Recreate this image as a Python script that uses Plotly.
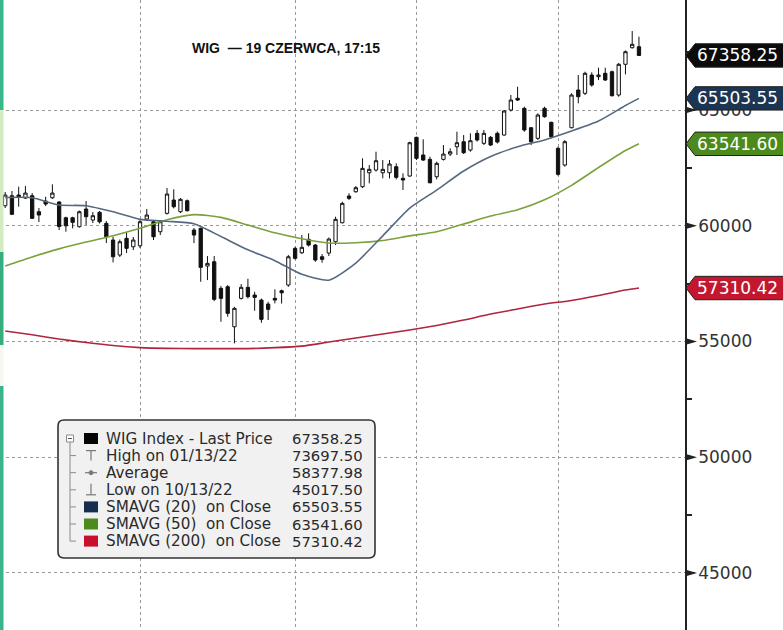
import plotly.graph_objects as go

# ---------------- data ----------------
open_ = [60866, 61298, 61328, 61198, 61298, 60607, 61069, 61211, 61026, 60347,
         60347, 59959, 60723, 60248, 60581, 60105, 59384, 58735, 59457, 59094,
         59137, 60291, 60175, 59743, 60537, 61112, 60607, 61082, 59816, 59889,
         58260, 58446, 57297, 57366, 55637, 56864, 57340, 57007, 56791, 56618,
         56864, 57193, 57439, 59025, 58835, 59414, 59168, 58662, 58822, 59311,
         60131, 61285, 61471, 61687, 62291, 62408, 62291, 62291, 62551, 62049,
         62149, 63821, 63056, 62870, 62119, 62870, 63099, 63415, 63631, 63272,
         63994, 63562, 63821, 63994, 63921, 65001, 65506, 65074, 64236, 63778,
         65074, 64469, 63346, 62624, 64236, 65865, 65722, 66513, 66440, 66587,
         66656, 65649, 66976, 67693, 67736]
high = [61458, 61501, 61687, 61717, 61414, 60766, 61256, 61790, 61069, 60391,
        60391, 60658, 61069, 60594, 60637, 60205, 59526, 59406, 59730, 59514,
        60248, 60723, 60226, 60248, 61631, 61574, 61198, 61134, 59902, 59924,
        58692, 58692, 57396, 57439, 56501, 57482, 57711, 57150, 56856, 56718,
        57253, 57245, 58735, 59094, 59600, 59673, 59211, 58779, 59492, 60391,
        61039, 61401, 61717, 62914, 62624, 63199, 62840, 62840, 62697, 62265,
        63631, 63847, 63735, 62983, 62767, 63489, 63346, 64063, 63921, 63994,
        64137, 64137, 63877, 64072, 65001, 65649, 66008, 65144, 64266, 64858,
        65144, 64495, 63415, 63705, 65722, 66513, 66656, 66630, 66829, 66829,
        66708, 67032, 67572, 68414, 68168]
low = [60766, 60464, 60823, 61155, 60291, 60162, 60853, 61155, 59816, 59743,
       59889, 59924, 60032, 60118, 60097, 59254, 58420, 58649, 58822, 58951,
       59038, 60205, 59384, 59600, 60485, 60753, 60550, 60615, 59254, 57582,
       57655, 56748, 55854, 56070, 54920, 56813, 56864, 56329, 55810, 55927,
       56648, 56640, 57366, 58541, 58779, 59103, 58446, 58403, 58692, 59168,
       60105, 61112, 61427, 61631, 61834, 62343, 62049, 62049, 62006, 61544,
       62119, 62840, 62797, 61834, 62006, 62819, 63013, 63056, 63099, 63199,
       63640, 63489, 63445, 63553, 63890, 64936, 65390, 64063, 63489, 63705,
       64668, 63778, 62162, 62551, 64210, 65290, 65649, 66008, 66297, 66254,
       65584, 65576, 66543, 67658, 67334]
close = [61328, 60494, 61242, 61414, 60321, 60464, 60939, 61414, 59967, 59999,
         60149, 60607, 60391, 60434, 60175, 59526, 58662, 59311, 59025, 59384,
         60175, 60464, 59526, 60175, 61371, 60823, 61142, 60650, 59600, 58203,
         58376, 56821, 56864, 56216, 56432, 57340, 56934, 56908, 55957, 56389,
         56791, 57106, 58662, 58593, 59068, 59168, 58519, 58549, 59427, 60278,
         60969, 61185, 61644, 62481, 62438, 62810, 62438, 62667, 62093, 61976,
         63588, 62914, 62840, 61859, 62698, 63099, 63199, 63588, 63156, 63674,
         63705, 63994, 63489, 63618, 64958, 65433, 65433, 64137, 63631, 64785,
         64712, 63847, 62222, 63631, 65649, 65576, 66587, 66081, 66513, 66297,
         65619, 66976, 67520, 67840, 67358.25]
session = list(range(len(close)))

sma_session = [0, 4, 8, 12, 16, 20, 24, 28, 32, 36, 40, 44, 48, 52, 56, 60,
               64, 68, 72, 76, 80, 84, 88, 92, 94]
sma20 = [61220, 61211, 60896, 60866, 60602, 60278, 60196, 60088, 59535, 58960,
         58493, 57901, 57650, 58389, 59565, 60766, 61544, 62365, 62992, 63411,
         63709, 64094, 64526, 65196, 65503.55]
sma50 = [58260, 58653, 59003, 59297, 59569, 59889, 60261, 60481, 60364, 60032,
         59695, 59440, 59254, 59267, 59366, 59565, 59742, 60075, 60421, 60688,
         61121, 61747, 62516, 63251, 63541.60]
sma200 = [55452, 55292, 55106, 54955, 54825, 54738, 54704, 54695, 54695, 54695,
          54734, 54803, 54976, 55149, 55322, 55495, 55694, 55927, 56186, 56402,
          56618, 56769, 56985, 57223, 57310.42]

month_start_sessions = [20, 43, 61, 82]
y_ticks = [45000, 50000, 55000, 60000, 65000]

tag_values = [67358.25, 65503.55, 63541.60, 57310.42]
tag_labels = ["67358.25", "65503.55", "63541.60", "57310.42"]

legend_labels = ["WIG Index - Last Price", "High on 01/13/22", "Average",
                 "Low on 10/13/22", "SMAVG (20)\u00a0 on Close",
                 "SMAVG (50)\u00a0 on Close", "SMAVG (200)\u00a0 on Close"]
legend_values = ["67358.25", "73697.50", "58377.98", "45017.50",
                 "65503.55", "63541.60", "57310.42"]

title_text = "WIG\u00a0\u00a0— 19 CZERWCA, 17:15"

# ---------------- style ----------------
W, H = 783, 630
PLOT_W = 685
Y_MIN, Y_MAX = 42537, 69754
X_MIN, X_MAX = -0.771, 100.83
UPP = (Y_MAX - Y_MIN) / H          # price units per pixel

C20 = "#56687f"
C50 = "#7aa23c"
C200 = "#b0243c"
TAG_COLORS = ["#0b0b0b", "#1b3552", "#4c8a1c", "#c3172f"]
FONT = "DejaVu Sans"


def X(px):
    return px / PLOT_W


def Y(py):
    return 1 - py / H


fig = go.Figure()

for vals, col in [(sma200, C200), (sma50, C50), (sma20, C20)]:
    fig.add_trace(go.Scatter(x=sma_session, y=vals, mode="lines",
                             line=dict(color=col, width=1.6, shape="spline", smoothing=0.6),
                             hoverinfo="skip", showlegend=False))

fig.add_trace(go.Candlestick(
    x=session, open=open_, high=high, low=low, close=close,
    increasing=dict(line=dict(color="#111111", width=1), fillcolor="#ffffff"),
    decreasing=dict(line=dict(color="#111111", width=1), fillcolor="#111111"),
    whiskerwidth=0, showlegend=False))

shapes = []
annotations = []

# left edge colour strip (screen-capture border)
for y0, y1, col in [(0, 110, "#3bb58a"), (110, 252, "#d3ebc3"), (252, 345, "#36ad7c"),
                    (345, 386, "#f4f8f1"), (386, 630, "#3bb38c")]:
    shapes.append(dict(type="rect", xref="paper", yref="paper", x0=X(0), x1=X(3.5),
                       y0=Y(y1), y1=Y(y0), fillcolor=col, line=dict(width=0), layer="above"))

# tick triangles on the axis
for v in y_ticks:
    h = 3.5 * UPP
    shapes.append(dict(type="path", xref="paper", yref="y",
                       path=f"M {X(685)},{v + h} L {X(697)},{v} L {X(685)},{v - h} Z",
                       fillcolor="#222222", line=dict(width=0), layer="above"))

# price tags
for v, lab, col in zip(tag_values, tag_labels, TAG_COLORS):
    h = 11.7 * UPP
    shapes.append(dict(type="path", xref="paper", yref="y",
                       path=(f"M {X(686)},{v} L {X(695)},{v + h} L {X(790)},{v + h} "
                             f"L {X(790)},{v - h} L {X(695)},{v - h} Z"),
                       fillcolor=col, line=dict(color="#222222", width=1), layer="above"))
    annotations.append(dict(x=X(696), y=v, xref="paper", yref="y", xanchor="left",
                            yanchor="middle", text=lab, showarrow=False, borderpad=0,
                            font=dict(family=FONT, size=17, color="#ffffff")))

# legend box
bx0, bx1, by0, by1, r = 58, 375, 420, 558, 6
shapes.append(dict(
    type="path", xref="paper", yref="paper",
    path=(f"M {X(bx0 + r)},{Y(by0)} L {X(bx1 - r)},{Y(by0)} Q {X(bx1)},{Y(by0)} {X(bx1)},{Y(by0 + r)} "
          f"L {X(bx1)},{Y(by1 - r)} Q {X(bx1)},{Y(by1)} {X(bx1 - r)},{Y(by1)} "
          f"L {X(bx0 + r)},{Y(by1)} Q {X(bx0)},{Y(by1)} {X(bx0)},{Y(by1 - r)} "
          f"L {X(bx0)},{Y(by0 + r)} Q {X(bx0)},{Y(by0)} {X(bx0 + r)},{Y(by0)} Z"),
    fillcolor="#f1f1f1", line=dict(color="#333333", width=1.6), layer="above"))

rows = [438.5 + 17.1 * k for k in range(len(legend_labels))]
TREE = "#8a8a8a"
# collapse box
shapes.append(dict(type="rect", xref="paper", yref="paper", x0=X(66.5), x1=X(73.5),
                   y0=Y(rows[0] + 3.5), y1=Y(rows[0] - 3.5), fillcolor="#ffffff",
                   line=dict(color=TREE, width=1), layer="above"))
shapes.append(dict(type="line", xref="paper", yref="paper", x0=X(68), x1=X(72),
                   y0=Y(rows[0]), y1=Y(rows[0]), line=dict(color="#555555", width=1), layer="above"))
shapes.append(dict(type="line", xref="paper", yref="paper", x0=X(70), x1=X(70),
                   y0=Y(rows[0] + 3.5), y1=Y(rows[-1]), line=dict(color=TREE, width=1), layer="above"))
for ry_ in rows[1:]:
    shapes.append(dict(type="line", xref="paper", yref="paper", x0=X(70), x1=X(76),
                       y0=Y(ry_), y1=Y(ry_), line=dict(color=TREE, width=1), layer="above"))

sq_colors = {0: "#050505", 4: "#172f4f", 5: "#4b8b1d", 6: "#c8102e"}
for k, col in sq_colors.items():
    shapes.append(dict(type="rect", xref="paper", yref="paper", x0=X(84), x1=X(98),
                       y0=Y(rows[k] + 5.5), y1=Y(rows[k] - 5.5), fillcolor=col,
                       line=dict(width=0), layer="above"))
ICON = "#7a7a7a"
# high icon
shapes.append(dict(type="line", xref="paper", yref="paper", x0=X(86), x1=X(96),
                   y0=Y(rows[1] - 5), y1=Y(rows[1] - 5), line=dict(color=ICON, width=1.2), layer="above"))
shapes.append(dict(type="line", xref="paper", yref="paper", x0=X(91), x1=X(91),
                   y0=Y(rows[1] - 5), y1=Y(rows[1] + 5), line=dict(color=ICON, width=1.2), layer="above"))
# average icon
shapes.append(dict(type="line", xref="paper", yref="paper", x0=X(85), x1=X(97),
                   y0=Y(rows[2]), y1=Y(rows[2]), line=dict(color=ICON, width=1.2), layer="above"))
shapes.append(dict(type="circle", xref="paper", yref="paper", x0=X(89), x1=X(93),
                   y0=Y(rows[2] + 2), y1=Y(rows[2] - 2), fillcolor=ICON,
                   line=dict(color=ICON, width=1), layer="above"))
# low icon
shapes.append(dict(type="line", xref="paper", yref="paper", x0=X(91), x1=X(91),
                   y0=Y(rows[3] - 6), y1=Y(rows[3] + 5), line=dict(color=ICON, width=1.2), layer="above"))
shapes.append(dict(type="line", xref="paper", yref="paper", x0=X(86), x1=X(96),
                   y0=Y(rows[3] + 5), y1=Y(rows[3] + 5), line=dict(color=ICON, width=1.2), layer="above"))

for ry_, lab, val in zip(rows, legend_labels, legend_values):
    annotations.append(dict(x=X(105), y=Y(ry_), xref="paper", yref="paper", xanchor="left",
                            yanchor="middle", text=lab, showarrow=False, borderpad=0,
                            font=dict(family=FONT, size=15.2, color="#2a2a2a")))
    annotations.append(dict(x=X(364), y=Y(ry_), xref="paper", yref="paper", xanchor="right",
                            yanchor="middle", text=val, showarrow=False, borderpad=0,
                            font=dict(family=FONT, size=14.8, color="#2a2a2a")))

annotations.append(dict(x=X(285.5), y=Y(48), xref="paper", yref="paper", xanchor="center",
                        yanchor="middle", text=f"<b>{title_text}</b>", showarrow=False,
                        font=dict(family="Liberation Sans", size=14, color="#111111")))

fig.update_layout(
    width=W, height=H,
    margin=dict(l=0, r=W - PLOT_W, t=0, b=0, autoexpand=False),
    paper_bgcolor="#ffffff", plot_bgcolor="#ffffff",
    showlegend=False,
    xaxis=dict(range=[X_MIN, X_MAX], tickvals=month_start_sessions, showticklabels=False,
               ticks="", showgrid=True, gridcolor="#9a9a9a", griddash="dot", gridwidth=1,
               zeroline=False, showline=False, rangeslider=dict(visible=False), fixedrange=True),
    yaxis=dict(range=[Y_MIN, Y_MAX], side="right", tickvals=y_ticks,
               ticktext=[str(v) for v in y_ticks], ticks="outside", ticklen=8,
               tickwidth=1, tickcolor="#222222",
               minor=dict(dtick=2500, tick0=0, ticks="outside", ticklen=5, tickcolor="#222222",
                          tickwidth=1.5, showgrid=False),
               tickfont=dict(family=FONT, size=17, color="#333333"),
               showgrid=True, gridcolor="#9a9a9a", griddash="dot", gridwidth=1,
               zeroline=False, showline=True, linecolor="#222222", linewidth=1.6,
               fixedrange=True),
    shapes=shapes,
    annotations=annotations,
)

fig.write_html("out.html", config={"displayModeBar": False},
               post_script="document.body.style.margin='0px';document.body.style.padding='0px';")
